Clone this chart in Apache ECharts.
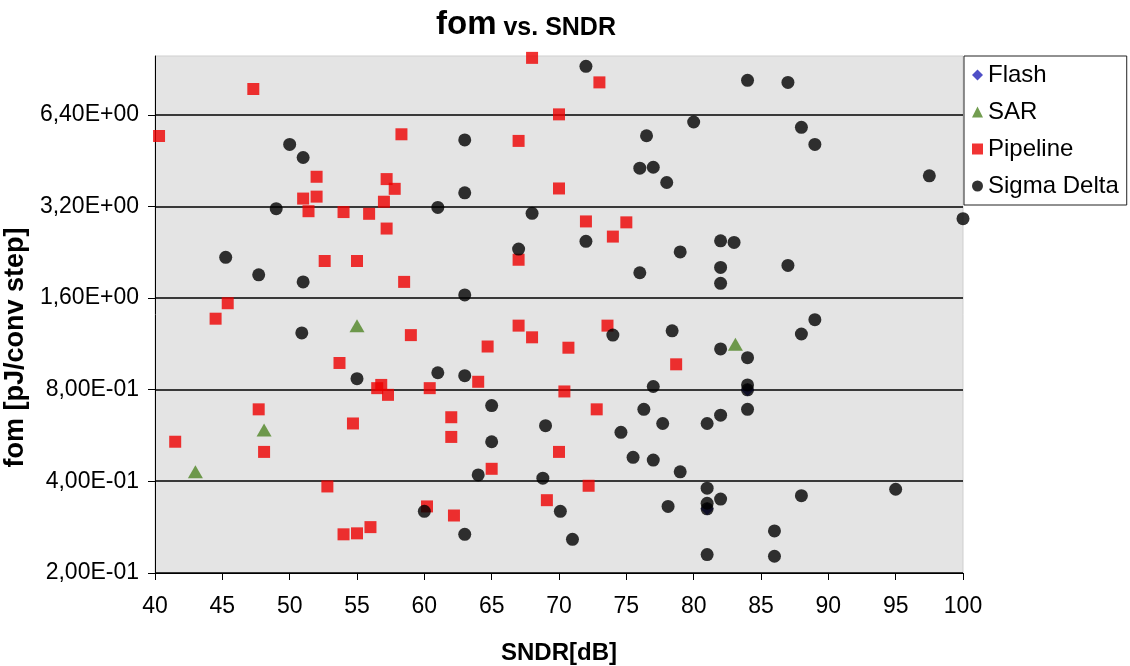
<!DOCTYPE html>
<html>
<head>
<meta charset="utf-8">
<script src="https://cdn.jsdelivr.net/npm/echarts@6/dist/echarts.min.js"></script>
<style>
  html, body { margin: 0; padding: 0; background: #ffffff; }
  #chart { width: 1130px; height: 666px; }
</style>
</head>
<body>
<div id="chart"></div>
<script>
// SNDR [dB] and figure of merit [pJ/conv step] per converter architecture
const flashSNDR = [84.0, 81.0];
const flashFom  = [0.80, 0.325];

const sarSNDR = [55.0, 48.1, 43.0, 83.1];
const sarFom  = [1.30, 0.59, 0.43, 1.13];

const pipelineSNDR = [
  40.3, 47.3, 68.0, 73.0, 70.0, 58.3, 67.0, 52.0, 57.2, 57.8,
  51.0, 52.0, 57.0, 51.4, 54.0, 55.9, 70.0, 72.0, 75.0, 74.0,
  57.2, 67.0, 52.6, 55.0, 58.5, 45.4, 44.5, 59.0, 67.0, 73.6,
  68.0, 64.7, 70.7, 53.7, 78.7, 56.8, 56.5, 57.3, 60.4, 64.0,
  70.4, 72.8, 47.7, 62.0, 54.7, 62.0, 41.5, 48.1, 70.0, 65.0,
  52.8, 72.2, 69.1, 60.2, 62.2, 56.0, 55.0, 54.0
];
const pipelineFom = [
  5.46, 7.79, 9.86, 8.19, 6.43, 5.53, 5.26, 4.01, 3.94, 3.66,
  3.40, 3.45, 3.32, 3.09, 3.07, 3.03, 3.67, 2.86, 2.84, 2.55,
  2.71, 2.14, 2.12, 2.12, 1.81, 1.54, 1.37, 1.21, 1.30, 1.30,
  1.19, 1.11, 1.10, 0.98, 0.97, 0.83, 0.81, 0.77, 0.81, 0.85,
  0.79, 0.69, 0.69, 0.65, 0.62, 0.56, 0.54, 0.50, 0.50, 0.44,
  0.385, 0.387, 0.347, 0.331, 0.309, 0.283, 0.270, 0.268
];

const sigmaDeltaSNDR = [
  50.0, 51.0, 49.0, 45.25, 47.7, 51.0, 50.9, 55.0, 63.0, 63.0,
  61.0, 68.0, 67.0, 72.0, 72.0, 63.0, 76.0, 76.5, 76.0, 77.0,
  78.0, 80.0, 84.0, 87.0, 88.0, 89.0, 97.5, 100.0, 79.0, 82.0,
  83.0, 82.0, 82.0, 87.0, 74.0, 78.4, 89.0, 88.0, 82.0, 84.0,
  84.0, 84.0, 77.0, 61.0, 63.0, 65.0, 76.3, 84.0, 82.0, 81.0,
  77.7, 69.0, 74.6, 65.0, 75.5, 77.0, 79.0, 64.0, 68.8, 81.0,
  95.0, 88.0, 82.0, 81.0, 81.0, 78.1, 70.1, 60.0, 63.0, 71.0,
  86.0, 81.0, 86.0
];
const sigmaDeltaFom = [
  5.12, 4.64, 3.15, 2.18, 1.91, 1.81, 1.23, 0.87, 5.30, 3.55,
  3.18, 3.04, 2.32, 2.46, 9.25, 1.64, 1.94, 5.47, 4.28, 4.31,
  3.84, 6.07, 8.32, 8.19, 5.83, 5.12, 4.04, 2.92, 2.27, 2.47,
  2.44, 2.02, 1.79, 2.05, 1.21, 1.25, 1.36, 1.22, 1.09, 1.02,
  0.83, 0.80, 0.82, 0.91, 0.89, 0.71, 0.69, 0.69, 0.66, 0.62,
  0.62, 0.61, 0.58, 0.54, 0.48, 0.47, 0.43, 0.42, 0.41, 0.38,
  0.377, 0.359, 0.350, 0.339, 0.325, 0.331, 0.319, 0.319, 0.268, 0.258,
  0.275, 0.230, 0.227
];

// y axis: doubling steps starting at 0.2, top of the axis at 10
const fomMin = 0.2;
const fomMax = 10;

const FONT = '"Liberation Sans", Arial, sans-serif';

function pairs(xs, ys) {
  return xs.map((x, i) => [x, ys[i]]);
}

// Excel-style scientific label with decimal comma: 6,40E+00
function sciLabel(v) {
  if (v <= 0) return '';
  v = Number(v.toPrecision(2));
  let e = Math.floor(Math.log10(v) + 1e-9);
  let m = v / Math.pow(10, e);
  const sign = e < 0 ? '-' : '+';
  const ea = Math.abs(e);
  return m.toFixed(2).replace('.', ',') + 'E' + sign + (ea < 10 ? '0' + ea : ea);
}

const chart = echarts.init(document.getElementById('chart'), null, { renderer: 'canvas' });

chart.setOption({
  animation: false,
  backgroundColor: '#ffffff',
  title: {
    text: '{a|fom}{b| vs. SNDR}',
    left: 431,
    top: 3,
    textStyle: {
      rich: {
        a: { fontFamily: FONT, fontWeight: 'bold', fontSize: 33, color: '#000' },
        b: { fontFamily: FONT, fontWeight: 'bold', fontSize: 25, color: '#000', padding: [7, 0, 0, 0] }
      }
    }
  },
  legend: {
    orient: 'vertical',
    left: 964,
    top: 56,
    padding: [7, 8, 7, 8],
    itemGap: 13,
    itemWidth: 11,
    itemHeight: 11,
    backgroundColor: '#ffffff',
    borderColor: '#222222',
    borderWidth: 1,
    textStyle: { fontFamily: FONT, fontSize: 24, color: '#000' },
    data: [
      { name: 'Flash', icon: 'diamond' },
      { name: 'SAR', icon: 'triangle' },
      { name: 'Pipeline', icon: 'rect' },
      { name: 'Sigma Delta', icon: 'circle' }
    ]
  },
  grid: {
    left: 155,
    right: 167,
    top: 56,
    bottom: 93,
    outerBoundsMode: 'none',
    show: true,
    backgroundColor: '#e4e4e4',
    borderColor: '#cfcfcf',
    borderWidth: 1
  },
  xAxis: {
    type: 'value',
    min: 40,
    max: 100,
    interval: 5,
    name: 'SNDR[dB]',
    nameLocation: 'middle',
    nameGap: 68,
    nameTextStyle: { fontFamily: FONT, fontWeight: 'bold', fontSize: 24, color: '#000' },
    axisLine: { show: true, lineStyle: { color: '#000', width: 1 } },
    axisTick: { show: true, length: 7, lineStyle: { color: '#000' } },
    axisLabel: { fontFamily: FONT, fontSize: 23, color: '#000', margin: 22 },
    splitLine: { show: false }
  },
  yAxis: {
    type: 'log',
    logBase: 2,
    min: fomMin,
    max: fomMax,
    interval: 1,
    name: 'fom [pJ/conv step]',
    nameLocation: 'middle',
    nameGap: 105,
    nameRotate: 90,
    nameTextStyle: {
      fontFamily: FONT, fontWeight: 'bold', fontSize: 27, color: '#000',
      padding: [0, 66, 0, 0]
    },
    axisLine: { show: true, lineStyle: { color: '#000', width: 1 } },
    axisTick: { show: true, length: 7, lineStyle: { color: '#000' } },
    axisLabel: {
      fontFamily: FONT, fontSize: 23, color: '#000', margin: 16,
      showMaxLabel: false,
      formatter: function (v) { return sciLabel(v); }
    },
    splitLine: { show: true, showMaxLine: false, lineStyle: { color: '#000', width: 1.5 } }
  },
  series: [
    {
      name: 'Flash', type: 'scatter', symbol: 'diamond', symbolSize: 13,
      itemStyle: { color: '#2323b8' },
      data: pairs(flashSNDR, flashFom), z: 1
    },
    {
      name: 'SAR', type: 'scatter', symbol: 'triangle', symbolSize: [15, 13],
      itemStyle: { color: '#4f8424' },
      data: pairs(sarSNDR, sarFom), z: 2
    },
    {
      name: 'Pipeline', type: 'scatter', symbol: 'rect', symbolSize: 12,
      itemStyle: { color: '#ee0000' },
      data: pairs(pipelineSNDR, pipelineFom), z: 3
    },
    {
      name: 'Sigma Delta', type: 'scatter', symbol: 'circle', symbolSize: 13,
      itemStyle: { color: '#000000' },
      data: pairs(sigmaDeltaSNDR, sigmaDeltaFom), z: 4
    }
  ]
});
</script>
</body>
</html>
